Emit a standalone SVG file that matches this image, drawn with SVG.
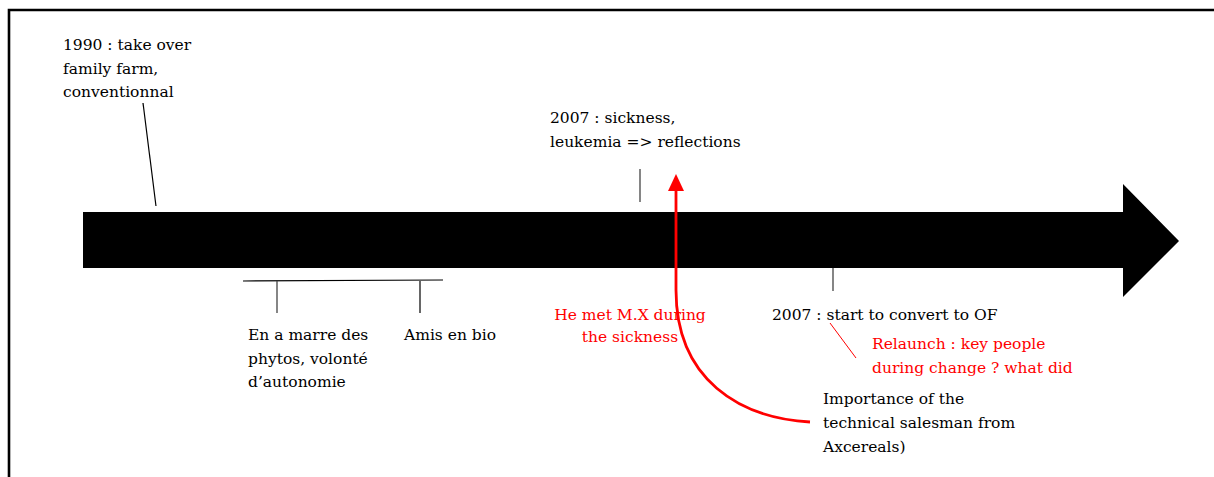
<svg xmlns="http://www.w3.org/2000/svg" width="1214" height="477" viewBox="0 0 1214 477">
<style>
  .t { font-family: "DejaVu Serif", "Liberation Serif", serif; font-size: 15.5px; fill: #000; }
  .r { fill: #ff0000; }
  .tick { stroke: #444; stroke-width: 1.3; fill: none; }
  .thin { stroke: #000; stroke-width: 1.2; fill: none; }
</style>
<rect width="1214" height="477" fill="#fff"/>
<g id="frame">
  <path d="M9 490 L9 10 L1220 10" stroke="#000" stroke-width="2.6" fill="none"/>
</g>
<g id="timeline">
  <path d="M83 212 L1123 212 L1123 184 L1179 241 L1123 297 L1123 268 L83 268 Z" fill="#000"/>
</g>
<g id="connectors">
  <line class="thin" x1="143" y1="103" x2="156" y2="206"/>
  <line class="tick" x1="640" y1="169" x2="640" y2="202"/>
  <line class="thin" x1="243" y1="281" x2="443" y2="280"/>
  <line class="tick" x1="277" y1="281" x2="277" y2="313"/>
  <line class="thin" x1="420" y1="281" x2="420" y2="313"/>
  <line class="tick" x1="833" y1="268" x2="833" y2="291"/>
  <line x1="830" y1="323" x2="856" y2="358" stroke="#ff0000" stroke-width="1"/>
  <path d="M810 422 C740 418 676 380 676 290 L676 190" stroke="#ff0000" stroke-width="2.8" fill="none"/>
  <path d="M676 174 L684 191 L668 191 Z" fill="#ff0000"/>
</g>
<g id="n1990">
  <text class="t" x="63" y="50">1990 : take over</text>
  <text class="t" x="63" y="74">family farm,</text>
  <text class="t" x="63" y="97">conventionnal</text>
</g>
<g id="nSickness">
  <text class="t" x="550" y="123">2007 : sickness,</text>
  <text class="t" x="550" y="147">leukemia =&gt; reflections</text>
</g>
<g id="nPhytos">
  <text class="t" x="248" y="340">En a marre des</text>
  <text class="t" x="248" y="364">phytos, volonté</text>
  <text class="t" x="248" y="387">d’autonomie</text>
</g>
<g id="nAmis">
  <text class="t" x="404" y="340">Amis en bio</text>
</g>
<g id="nMX">
  <text class="t r" x="630" y="320" text-anchor="middle">He met M.X during</text>
  <text class="t r" x="630" y="342" text-anchor="middle">the sickness</text>
</g>
<g id="nConvert">
  <text class="t" x="772" y="320">2007 : start to convert to OF</text>
</g>
<g id="nRelaunch">
  <text class="t r" x="872" y="349">Relaunch : key people</text>
  <text class="t r" x="872" y="373">during change ? what did</text>
</g>
<g id="nImportance">
  <text class="t" x="823" y="404">Importance of the</text>
  <text class="t" x="823" y="428">technical salesman from</text>
  <text class="t" x="823" y="452">Axcereals)</text>
</g>
</svg>
